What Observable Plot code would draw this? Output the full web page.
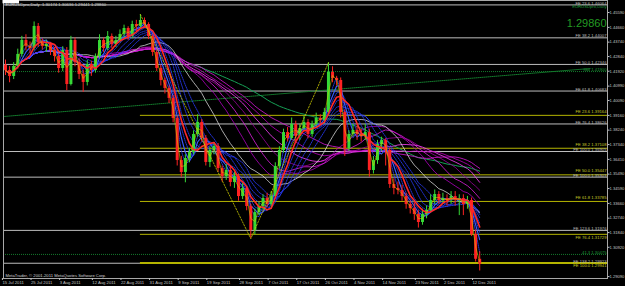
<!DOCTYPE html>
<html><head><meta charset="utf-8">
<script src="https://cdn.jsdelivr.net/npm/d3@7"></script>
<script src="https://cdn.jsdelivr.net/npm/@observablehq/plot@0.6"></script>
<style>
html,body{margin:0;padding:0;background:#000;}
#chart{width:625px;height:286px;overflow:hidden;}
</style></head><body><div id="chart"></div>
<script>
// ---------- data ----------
const titleText = "EURUSDpro,Daily  1.30174 1.30636 1.29441 1.29860";
const symbolText = "EURUSDpro,Daily";
const copyrightText = "MetaTrader, \u00a9 2001-2011 MetaQuotes Software Corp.";
const firstOpen = 1.4230;
const closes = [1.4197,1.4159,1.4222,1.4297,1.4384,1.4347,1.4334,1.4472,1.4372,1.4347,
1.4359,1.4322,1.4284,1.4209,1.4322,1.4109,1.4384,1.4247,1.4172,1.4122,
1.4234,1.4197,1.4284,1.4384,1.4334,1.4409,1.4359,1.4384,1.4422,1.4459,
1.4409,1.4484,1.4472,1.4509,1.4484,1.4409,1.4309,1.4209,1.4134,1.4084,
1.4022,1.3897,1.3634,1.3559,1.3647,1.3684,1.3797,1.3872,1.3772,1.3622,
1.3697,1.3722,1.3584,1.3534,1.3572,1.3497,1.3534,1.3409,1.3459,1.3347,
1.3197,1.3309,1.3347,1.3397,1.3359,1.3409,1.3597,1.3697,1.3809,1.3772,
1.3859,1.3784,1.3834,1.3872,1.3797,1.3859,1.3897,1.3884,1.3934,1.4184,
1.4147,1.4134,1.3934,1.3709,1.3797,1.3822,1.3797,1.3784,1.3809,1.3572,
1.3634,1.3734,1.3759,1.3697,1.3484,1.3459,1.3447,1.3409,1.3359,1.3334,
1.3297,1.3247,1.3297,1.3322,1.3384,1.3422,1.3384,1.3397,1.3384,1.3409,
1.3384,1.3397,1.3359,1.3384,1.3172,1.3017,1.2986];
const highs = [1.4262,1.4221,1.4246,1.4330,1.4410,1.4420,1.4375,1.4500,1.4490,1.4395,
1.4385,1.4370,1.4340,1.4300,1.4345,1.4340,1.4410,1.4400,1.4270,1.4200,
1.4260,1.4255,1.4300,1.4420,1.4400,1.4440,1.4425,1.4410,1.4450,1.4480,
1.4470,1.4505,1.4510,1.4546,1.4525,1.4495,1.4420,1.4320,1.4230,1.4150,
1.4100,1.4040,1.3910,1.3660,1.3670,1.3710,1.3820,1.3920,1.3890,1.3790,
1.3720,1.3745,1.3740,1.3600,1.3610,1.3590,1.3560,1.3550,1.3490,1.3470,
1.3360,1.3330,1.3370,1.3420,1.3430,1.3440,1.3620,1.3720,1.3830,1.3840,
1.3900,1.3880,1.3860,1.3910,1.3890,1.3880,1.3930,1.3920,1.3960,1.4245,
1.4220,1.4160,1.4150,1.3950,1.3820,1.3860,1.3850,1.3830,1.3860,1.3830,
1.3660,1.3760,1.3780,1.3770,1.3710,1.3520,1.3500,1.3480,1.3430,1.3380,
1.3370,1.3320,1.3330,1.3350,1.3420,1.3450,1.3440,1.3430,1.3420,1.3440,
1.3440,1.3420,1.3420,1.3410,1.3400,1.3200,1.3064];
const lows = [1.4165,1.4120,1.4140,1.4205,1.4280,1.4320,1.4300,1.4320,1.4340,1.4325,
1.4310,1.4290,1.4250,1.4180,1.4190,1.4070,1.4100,1.4220,1.4140,1.4060,
1.4100,1.4160,1.4180,1.4270,1.4310,1.4320,1.4335,1.4340,1.4370,1.4400,
1.4385,1.4395,1.4440,1.4455,1.4460,1.4390,1.4285,1.4190,1.4100,1.4050,
1.3990,1.3870,1.3600,1.3530,1.3495,1.3620,1.3670,1.3780,1.3750,1.3600,
1.3590,1.3670,1.3560,1.3500,1.3510,1.3470,1.3460,1.3380,1.3390,1.3320,
1.3146,1.3170,1.3290,1.3320,1.3340,1.3340,1.3400,1.3580,1.3680,1.3750,
1.3760,1.3740,1.3760,1.3820,1.3770,1.3780,1.3840,1.3850,1.3860,1.3920,
1.4120,1.4100,1.3900,1.3660,1.3690,1.3780,1.3760,1.3750,1.3760,1.3530,
1.3550,1.3610,1.3690,1.3600,1.3460,1.3420,1.3420,1.3380,1.3330,1.3300,
1.3260,1.3212,1.3230,1.3270,1.3310,1.3360,1.3360,1.3360,1.3350,1.3360,
1.3350,1.3290,1.3290,1.3330,1.3160,1.3000,1.2944];

const dateTickBars = [-1,6,13,21,28,35,42,49,57,64,71,78,85,92,100,107,114];
const dateTickLabels = ["15 Jul 2011","25 Jul 2011","3 Aug 2011","12 Aug 2011","22 Aug 2011",
"31 Aug 2011","9 Sep 2011","19 Sep 2011","28 Sep 2011","7 Oct 2011","17 Oct 2011",
"26 Oct 2011","4 Nov 2011","14 Nov 2011","23 Nov 2011","2 Dec 2011","12 Dec 2011"];
const priceTicks = [1.45590,1.44660,1.43740,1.42840,1.41920,1.40990,1.40090,1.39160,1.38240,
1.37340,1.36410,1.35490,1.34590,1.33660,1.32740,1.31840,1.30920,1.29090];

// Fibonacci expansion objects
const grayLevels = [1.46064,1.44007,1.42346,1.40683,1.38626,1.36905,1.35303,1.31976,1.29923];
const grayLabels = ["FE 23.6 1.46064","FE 38.2 1.44007","FE 50.0 1.42346","FE 61.8 1.40683",
"FE 76.4 1.38626","FE 100.0 1.36905","FE 100.0 1.35303","FE 123.6 1.31976","FE 138.2 1.29923"];
const oliveStartBar = 33;
const oliveLevels = [1.39164,1.37108,1.35447,1.33785,1.31729,1.29941];
const oliveLabels = ["FE 23.6 1.39164","FE 38.2 1.37108","FE 50.0 1.35447","FE 61.8 1.33785",
"FE 76.4 1.31729","FE 100.0 1.29941"];
const greenLevels = [1.41900,1.30475];
const greenLabels = ["fibo 1.41900","41.3 1.30475"];
const trendBars = [-0.5,143];
const trendPrices = [1.3909,1.4209];
const zigzagBars = [33,60,79];
const zigzagSide = ["high","low","high"];

// moving-average periods of the ribbons
const blueK = [3,5,7,9,11,13];
const magentaK = [24,28,32,36,40,45];

// ---------- build ----------
const xDomain = [-0.49, 147.26];
const bars = closes.map((c,i) => {
  const open = i === 0 ? firstOpen : closes[i-1];
  return {i, open, close: c, high: Math.max(highs[i], open, c), low: Math.min(lows[i], open, c)};
});
const lastClose = closes[closes.length-1];
const UP = "#36d936", DOWN = "#ff2222";
const candleColor = d => d.close >= d.open ? UP : DOWN;
const GRAY = "#bdbdbd", OLIVE = "#b4b400", DGREEN = "#137a2c";
const grayRows = grayLevels.map((p,j) => ({price:p, label:grayLabels[j], dotted: j===0}));
const oliveRows = oliveLevels.map((p,j) => ({price:p, label:oliveLabels[j], start: oliveStartBar, end: xDomain[1], idx:j}));
const greenRows = greenLevels.map((p,j) => ({price:p, label:greenLabels[j]}));
const trend = trendBars.map((b,j) => ({bar:b, price:trendPrices[j]}));
const zig = zigzagBars.map((b,j) => ({bar:b, price: bars[b][zigzagSide[j]]}));
const tickLabel = new Map(dateTickBars.map((b,j) => [b, dateTickLabels[j]]));
const magentaColors = ["#b000c0","#e020e0","#9a009a","#ff40ff","#c000c0","#d818d8"];

const ma = (k, opts) => Plot.lineY(bars, Plot.windowY({k, anchor:"end", reduce:"mean"}, {x:"i", y:"close", ...opts}));
const FS = 4.2;
const oliveAbove = oliveRows.filter(d => d.idx < 4);
const oliveBelow = oliveRows.filter(d => d.idx >= 4);

const chart = Plot.plot({
  width: 625, height: 286,
  marginLeft: 3, marginRight: 18, marginTop: 0, marginBottom: 8,
  x: {type:"linear", domain: xDomain},
  y: {domain:[1.2897, 1.4634]},
  style: {background:"#000", color:"#c4c4c4", fontFamily:"Liberation Sans, Arial, sans-serif", fontSize:"4.2px"},
  marks: [
    // levels
    Plot.ruleY(grayRows, {y:"price", stroke:GRAY, strokeWidth:1, strokeDasharray: d => d.dotted ? "1,1" : null}),
    Plot.ruleY(greenRows, {y:"price", stroke:DGREEN, strokeWidth:1, strokeDasharray:"1,1"}),
    Plot.ruleY(oliveRows, {x1:"start", x2:"end", y:"price", stroke:OLIVE, strokeWidth: d => d.idx===5 ? 2 : 1, strokeDasharray: d => d.idx===4 ? "2,1" : null}),
    Plot.line(trend, {x:"bar", y:"price", stroke:DGREEN, strokeWidth:1, strokeDasharray:"1,1"}),
    // ribbons
    ma(60, {stroke:"#16a055", strokeWidth:1}),
    ...magentaK.map((k,j) => ma(k, {stroke:magentaColors[j], strokeWidth:0.8})),
    ma(18, {stroke:"#d4d4d4", strokeWidth:0.8}),
    ...blueK.map(k => ma(k, {stroke:"#2a3cff", strokeWidth:0.8, strokeDasharray:"1.2,1"})),
    ma(4, {stroke:"#3a5cff", strokeWidth:1.1}),
    // candles
    Plot.ruleX(bars, {x:"i", y1:"low", y2:"high", stroke:candleColor, strokeWidth:1}),
    Plot.ruleX(bars, {x:"i", y1:"open", y2:"close", stroke:candleColor, strokeWidth:3}),
    ma(6, {stroke:"#ff2a2a", strokeWidth:1.6}),
    ma(2, {stroke:"#c8c800", strokeWidth:0.6}),
    Plot.line(zig, {x:"bar", y:"price", stroke:"#c8c800", strokeWidth:0.8, strokeDasharray:"1.5,1.5"}),
    // level labels
    Plot.text(grayRows, {y:"price", text:"label", frameAnchor:"right", textAnchor:"end", lineAnchor:"bottom", dx:-1, dy:-0.4, fill:GRAY, fontSize:FS}),
    Plot.text(oliveAbove, {y:"price", text:"label", frameAnchor:"right", textAnchor:"end", lineAnchor:"bottom", dx:-1, dy:-2.7, fill:"#c8c828", fontSize:FS}),
    Plot.text(oliveBelow, {y:"price", text:"label", frameAnchor:"right", textAnchor:"end", lineAnchor:"top", dx:-1, dy:1.2, fill:"#c8c828", fontSize:FS}),
    Plot.text(greenRows, {y:"price", text:"label", frameAnchor:"right", textAnchor:"end", lineAnchor:"bottom", dx:-1, dy:-0.5, fill:"#1f9a3a", fontSize:FS}),
    Plot.text([grayLevels[0]], {y: d => d, text: () => symbolText, frameAnchor:"right", textAnchor:"end", lineAnchor:"top", dx:-1, dy:0.5, fill:"#1f9a3a", fontSize:FS}),
    // big price
    Plot.text([lastClose], {text: d => d.toFixed(5), frameAnchor:"top-right", textAnchor:"end", lineAnchor:"bottom", dx:-1, dy:26, fill:"#239b23", fontSize:11}),
    // title & copyright
    Plot.text([titleText], {text: d => d, frameAnchor:"top-left", textAnchor:"start", lineAnchor:"top", dx:2, dy:3, fill:"#d0d0d0", fontSize:FS}),
    Plot.text([copyrightText], {text: d => d, frameAnchor:"bottom-left", textAnchor:"start", lineAnchor:"bottom", dx:2, dy:-2, fill:"#d0d0d0", fontSize:FS}),
    Plot.frame({stroke:"#a8a8a8"}),
    Plot.axisX({ticks: dateTickBars, tickFormat: d => tickLabel.get(d), tickSize:2, tickPadding:1, fontSize:FS, textAnchor:"start", dx:1}),
    Plot.axisY({anchor:"right", ticks: priceTicks, tickFormat: d => d.toFixed(5), tickSize:1.5, tickPadding:0.5, fontSize:4.1}),
    Plot.text([lastClose], {y: d => d, text: d => d.toFixed(5), frameAnchor:"right", textAnchor:"start", dx:2.5, fill:"#000", fontSize:4.1, className:"pricebox"})
  ]
});
document.getElementById("chart").appendChild(chart);
// white box behind the current-price label, sized from the label itself
const t = chart.querySelector(".pricebox text");
if (t) {
  const b = t.getBBox();
  const r = document.createElementNS("http://www.w3.org/2000/svg","rect");
  r.setAttribute("x", b.x - 0.5); r.setAttribute("y", b.y - 0.5);
  r.setAttribute("width", b.width + 1); r.setAttribute("height", b.height + 1);
  r.setAttribute("fill", "#ffffff");
  t.parentNode.insertBefore(r, t);
}
</script></body></html>
